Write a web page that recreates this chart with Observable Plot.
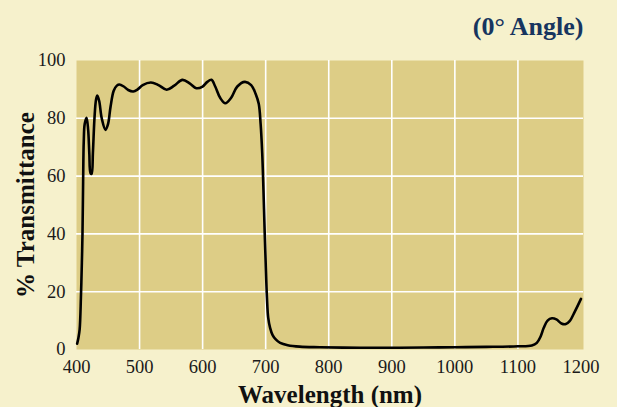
<!DOCTYPE html>
<html>
<head>
<meta charset="utf-8">
<script src="https://cdn.jsdelivr.net/npm/d3@7"></script>
<script src="https://cdn.jsdelivr.net/npm/@observablehq/plot@0.6"></script>
<style>
  html, body { margin: 0; padding: 0; background: #F6F1CC; }
  #chart { width: 617px; height: 407px; }
</style>
</head>
<body>
<div id="chart"></div>
<script>
const title = "(0° Angle)";
const xLabel = "Wavelength (nm)";
const yLabel = "% Transmittance";
const xTicks = [400, 500, 600, 700, 800, 900, 1000, 1100, 1200];
const yTicks = [0, 20, 40, 60, 80, 100];
const xGrid = [500, 600, 700, 800, 900, 1000, 1100];
const yGrid = [20, 40, 60, 80];

const wavelength = [401, 403, 405, 407, 408.5, 409.5, 410.5, 411.5, 413, 416, 418.5, 420.3, 422.3, 424, 426, 428.5, 431, 433, 436, 440, 446, 450, 454, 459, 464, 468, 475, 482, 490, 497, 505, 518, 530, 543, 555, 568, 580, 590, 600, 607, 614, 620, 628, 636, 645, 655, 667, 677, 684, 689, 692, 694.5, 696.5, 698.5, 700, 702, 704, 707, 711, 716, 723, 735, 754, 786, 850, 900, 950, 1000, 1050, 1100, 1122, 1130, 1136, 1141, 1147, 1154, 1161, 1169, 1176, 1182, 1190, 1200];
const transmittance = [2, 4, 7, 18, 30, 40, 58, 72, 78, 80.2, 76, 68, 61, 60.8, 68, 80, 86.5, 87.9, 86, 80, 76, 78, 84, 89.5, 91.3, 91.7, 91, 89.8, 89.3, 90, 91.5, 92.4, 91.5, 89.9, 91.3, 93.3, 92, 90.4, 91, 92.5, 93.3, 91, 87, 85.2, 87, 91, 92.6, 91.5, 88.5, 85, 78, 68, 55, 40, 30, 18, 11, 7.5, 5, 3.5, 2.3, 1.5, 1, 0.8, 0.6, 0.6, 0.7, 0.8, 0.9, 1.1, 1.4, 2.3, 4.5, 7.5, 10, 10.8, 10.4, 9, 8.8, 9.8, 13, 17.5];

const data = wavelength.map((w, i) => ({w, t: transmittance[i]}));

const font = "'Liberation Serif', 'DejaVu Serif', serif";

const chart = Plot.plot({
  width: 617,
  height: 407,
  marginLeft: 76,
  marginRight: 34,
  marginTop: 60,
  marginBottom: 58,
  style: { background: "#F6F1CC", fontFamily: font, color: "#1a1a1a", overflow: "visible" },
  x: { domain: [400, 1204], label: null },
  y: { domain: [0, 100], label: null },
  marks: [
    Plot.frame({ fill: "#DDCD86", stroke: "none" }),
    Plot.gridX(xGrid, { stroke: "#FFFFFF", strokeOpacity: 1, strokeWidth: 1.6 }),
    Plot.gridY(yGrid, { stroke: "#FFFFFF", strokeOpacity: 1, strokeWidth: 1.6 }),
    Plot.axisX(xTicks, { tickSize: 0, tickPadding: 10, fontSize: 18.5, label: null, fill: "#1a1a1a", tickFormat: d => String(d) }),
    Plot.axisY(yTicks, { tickSize: 0, tickPadding: 11, fontSize: 18.5, label: null, fill: "#1a1a1a", tickFormat: d => String(d) }),
    Plot.line(data, { x: "w", y: "t", curve: "catmull-rom", stroke: "#000", strokeWidth: 2.6 }),
    Plot.text([title], { frameAnchor: "top-right", textAnchor: "end", lineAnchor: "bottom", dy: -26, fontSize: 26, fontWeight: "bold", fill: "#17355F" }),
    Plot.text([xLabel], { frameAnchor: "bottom", textAnchor: "middle", lineAnchor: "bottom", dy: 53, fontSize: 25, fontWeight: "bold", fill: "#111" }),
    Plot.text([yLabel], { frameAnchor: "left", textAnchor: "middle", lineAnchor: "bottom", rotate: -90, dx: -43, fontSize: 25, fontWeight: "bold", fill: "#111" })
  ]
});
document.getElementById("chart").appendChild(chart);
</script>
</body>
</html>
